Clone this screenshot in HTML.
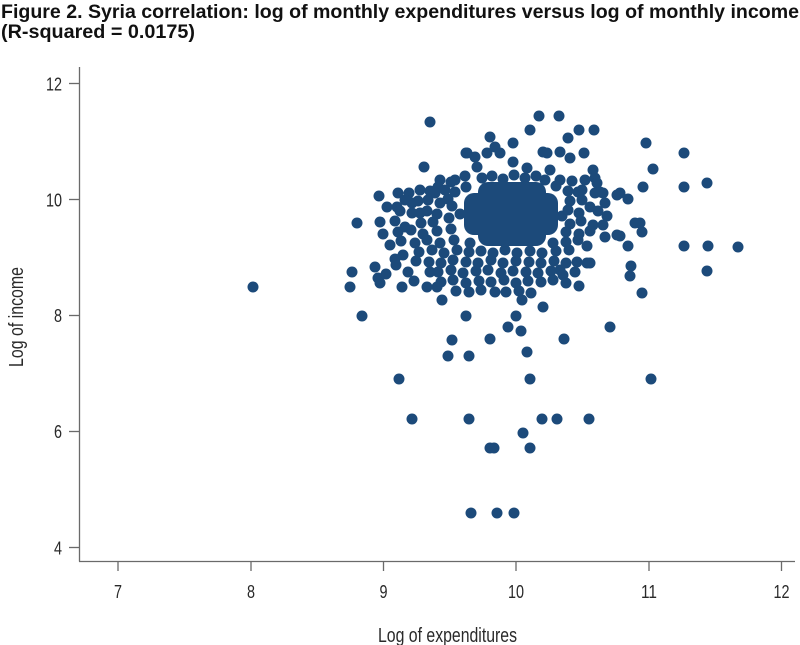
<!DOCTYPE html>
<html>
<head>
<meta charset="utf-8">
<style>
  html,body{margin:0;padding:0;background:#ffffff;}
  svg{display:block;}
  .t{font-family:"Liberation Sans",sans-serif;font-weight:bold;fill:#111;}
  .n{font-family:"Liberation Sans Narrow","Liberation Sans",sans-serif;fill:#2a2a2a;}
</style>
</head>
<body>
<svg width="800" height="645" viewBox="0 0 800 645" xmlns="http://www.w3.org/2000/svg">
  <rect x="0" y="0" width="800" height="645" fill="#ffffff"/>
  <text class="t" x="1" y="18" font-size="19.5" textLength="798" lengthAdjust="spacingAndGlyphs">Figure 2. Syria correlation: log of monthly expenditures versus log of monthly income</text>
  <text class="t" x="1" y="38" font-size="19.5" textLength="194" lengthAdjust="spacingAndGlyphs">(R-squared = 0.0175)</text>

  <g stroke="#6a6a6a" stroke-width="1.3" fill="none">
    <line x1="79.5" y1="67" x2="79.5" y2="561.5"/>
    <line x1="79" y1="561.5" x2="795" y2="561.5"/>
    <line x1="69" y1="83.5" x2="79" y2="83.5"/>
    <line x1="69" y1="199.5" x2="79" y2="199.5"/>
    <line x1="69" y1="315.5" x2="79" y2="315.5"/>
    <line x1="69" y1="431.5" x2="79" y2="431.5"/>
    <line x1="69" y1="547.5" x2="79" y2="547.5"/>
    <line x1="118" y1="561.5" x2="118" y2="571"/>
    <line x1="251" y1="561.5" x2="251" y2="571"/>
    <line x1="383.5" y1="561.5" x2="383.5" y2="571"/>
    <line x1="516" y1="561.5" x2="516" y2="571"/>
    <line x1="649" y1="561.5" x2="649" y2="571"/>
    <line x1="781.5" y1="561.5" x2="781.5" y2="571"/>
  </g>

  <g class="n" font-size="18.5" text-anchor="end">
    <text x="62" y="90.5" textLength="16" lengthAdjust="spacingAndGlyphs">12</text>
    <text x="62" y="206.5" textLength="16" lengthAdjust="spacingAndGlyphs">10</text>
    <text x="62" y="322" textLength="8" lengthAdjust="spacingAndGlyphs">8</text>
    <text x="62" y="438" textLength="8" lengthAdjust="spacingAndGlyphs">6</text>
    <text x="62" y="554.5" textLength="8" lengthAdjust="spacingAndGlyphs">4</text>
  </g>
  <g class="n" font-size="18.5">
    <text x="114" y="598" textLength="8" lengthAdjust="spacingAndGlyphs">7</text>
    <text x="247" y="598" textLength="8" lengthAdjust="spacingAndGlyphs">8</text>
    <text x="379.5" y="598" textLength="8" lengthAdjust="spacingAndGlyphs">9</text>
    <text x="508" y="598" textLength="16" lengthAdjust="spacingAndGlyphs">10</text>
    <text x="641" y="598" textLength="16" lengthAdjust="spacingAndGlyphs">11</text>
    <text x="773.5" y="598" textLength="16" lengthAdjust="spacingAndGlyphs">12</text>
  </g>
  <text class="n" x="378" y="642" font-size="20.5" textLength="139" lengthAdjust="spacingAndGlyphs">Log of expenditures</text>
  <text class="n" font-size="20.5" transform="translate(23,367) rotate(-90)" textLength="100" lengthAdjust="spacingAndGlyphs">Log of income</text>

  <g fill="#1c4a7a">
    <rect x="478" y="182" width="68" height="64" rx="10"/>
    <rect x="464" y="193" width="94" height="42" rx="10"/>
    <circle cx="482" cy="178" r="5.5"/><circle cx="492" cy="176" r="5.5"/><circle cx="503" cy="179" r="5.5"/><circle cx="514" cy="175" r="5.5"/><circle cx="525" cy="178" r="5.5"/><circle cx="536" cy="176" r="5.5"/><circle cx="545" cy="180" r="5.5"/>
    <circle cx="466" cy="187" r="5.5"/><circle cx="470" cy="243" r="5.5"/><circle cx="556" cy="186" r="5.5"/><circle cx="553" cy="243" r="5.5"/>
    <circle cx="460" cy="214" r="5.5"/><circle cx="562" cy="216" r="5.5"/>

    <circle cx="253" cy="287" r="5.5"/>
    <circle cx="352" cy="272" r="5.5"/>
    <circle cx="350" cy="287" r="5.5"/>
    <circle cx="362" cy="316" r="5.5"/>
    <circle cx="357" cy="223" r="5.5"/>
    <circle cx="379" cy="196" r="5.5"/>
    <circle cx="398" cy="193" r="5.5"/>
    <circle cx="409" cy="193" r="5.5"/>
    <circle cx="412" cy="203" r="5.5"/>
    <circle cx="387" cy="207" r="5.5"/>
    <circle cx="397" cy="207" r="5.5"/>
    <circle cx="380" cy="222" r="5.5"/>
    <circle cx="383" cy="234" r="5.5"/>
    <circle cx="405" cy="227" r="5.5"/>
    <circle cx="430" cy="122" r="5.5"/>
    <circle cx="424" cy="167" r="5.5"/>
    <circle cx="451" cy="182" r="5.5"/>
    <circle cx="438" cy="187" r="5.5"/>
    <circle cx="435" cy="193" r="5.5"/>
    <circle cx="448" cy="199" r="5.5"/>
    <circle cx="466" cy="153" r="5.5"/>
    <circle cx="375" cy="267" r="5.5"/>
    <circle cx="378" cy="278" r="5.5"/>
    <circle cx="380" cy="283" r="5.5"/>
    <circle cx="395" cy="259" r="5.5"/>
    <circle cx="403" cy="255" r="5.5"/>
    <circle cx="402" cy="287" r="5.5"/>
    <circle cx="427" cy="287" r="5.5"/>
    <circle cx="437" cy="287" r="5.5"/>
    <circle cx="442" cy="300" r="5.5"/>
    <circle cx="466" cy="316" r="5.5"/>
    <circle cx="452" cy="340" r="5.5"/>
    <circle cx="448" cy="356" r="5.5"/>
    <circle cx="469" cy="356" r="5.5"/>
    <circle cx="399" cy="379" r="5.5"/>
    <circle cx="412" cy="419" r="5.5"/>
    <circle cx="469" cy="419" r="5.5"/>
    <circle cx="471" cy="513" r="5.5"/>
    <circle cx="497" cy="513" r="5.5"/>
    <circle cx="514" cy="513" r="5.5"/>
    <circle cx="490" cy="448" r="5.5"/>
    <circle cx="494" cy="448" r="5.5"/>
    <circle cx="530" cy="448" r="5.5"/>
    <circle cx="523" cy="433" r="5.5"/>
    <circle cx="542" cy="419" r="5.5"/>
    <circle cx="557" cy="419" r="5.5"/>
    <circle cx="589" cy="419" r="5.5"/>
    <circle cx="530" cy="379" r="5.5"/>
    <circle cx="651" cy="379" r="5.5"/>
    <circle cx="527" cy="352" r="5.5"/>
    <circle cx="490" cy="339" r="5.5"/>
    <circle cx="564" cy="339" r="5.5"/>
    <circle cx="508" cy="327" r="5.5"/>
    <circle cx="521" cy="331" r="5.5"/>
    <circle cx="610" cy="327" r="5.5"/>
    <circle cx="516" cy="316" r="5.5"/>
    <circle cx="522" cy="300" r="5.5"/>
    <circle cx="543" cy="307" r="5.5"/>
    <circle cx="495" cy="292" r="5.5"/>
    <circle cx="579" cy="286" r="5.5"/>
    <circle cx="642" cy="293" r="5.5"/>
    <circle cx="630" cy="276" r="5.5"/>
    <circle cx="707" cy="271" r="5.5"/>
    <circle cx="631" cy="266" r="5.5"/>
    <circle cx="577" cy="262" r="5.5"/>
    <circle cx="587" cy="263" r="5.5"/>
    <circle cx="560" cy="270" r="5.5"/>
    <circle cx="563" cy="275" r="5.5"/>
    <circle cx="587" cy="246" r="5.5"/>
    <circle cx="628" cy="246" r="5.5"/>
    <circle cx="684" cy="246" r="5.5"/>
    <circle cx="708" cy="246" r="5.5"/>
    <circle cx="738" cy="247" r="5.5"/>
    <circle cx="620" cy="236" r="5.5"/>
    <circle cx="605" cy="237" r="5.5"/>
    <circle cx="593" cy="225" r="5.5"/>
    <circle cx="607" cy="216" r="5.5"/>
    <circle cx="590" cy="207" r="5.5"/>
    <circle cx="635" cy="223" r="5.5"/>
    <circle cx="640" cy="223" r="5.5"/>
    <circle cx="642" cy="232" r="5.5"/>
    <circle cx="595" cy="193" r="5.5"/>
    <circle cx="603" cy="193" r="5.5"/>
    <circle cx="620" cy="193" r="5.5"/>
    <circle cx="628" cy="199" r="5.5"/>
    <circle cx="593" cy="170" r="5.5"/>
    <circle cx="595" cy="178" r="5.5"/>
    <circle cx="597" cy="183" r="5.5"/>
    <circle cx="643" cy="187" r="5.5"/>
    <circle cx="653" cy="169" r="5.5"/>
    <circle cx="646" cy="143" r="5.5"/>
    <circle cx="684" cy="153" r="5.5"/>
    <circle cx="684" cy="187" r="5.5"/>
    <circle cx="707" cy="183" r="5.5"/>
    <circle cx="539" cy="116" r="5.5"/>
    <circle cx="559" cy="116" r="5.5"/>
    <circle cx="530" cy="130" r="5.5"/>
    <circle cx="579" cy="130" r="5.5"/>
    <circle cx="594" cy="130" r="5.5"/>
    <circle cx="490" cy="137" r="5.5"/>
    <circle cx="568" cy="138" r="5.5"/>
    <circle cx="513" cy="143" r="5.5"/>
    <circle cx="467" cy="153" r="5.5"/>
    <circle cx="487" cy="153" r="5.5"/>
    <circle cx="500" cy="153" r="5.5"/>
    <circle cx="495" cy="147" r="5.5"/>
    <circle cx="543" cy="152" r="5.5"/>
    <circle cx="560" cy="152" r="5.5"/>
    <circle cx="570" cy="158" r="5.5"/>
    <circle cx="584" cy="153" r="5.5"/>
    <circle cx="475" cy="157" r="5.5"/>
    <circle cx="477" cy="167" r="5.5"/>
    <circle cx="513" cy="162" r="5.5"/>
    <circle cx="527" cy="168" r="5.5"/>
    <circle cx="550" cy="170" r="5.5"/>
    <circle cx="547" cy="153" r="5.5"/>
    <circle cx="617" cy="195" r="5.5"/>
    <circle cx="617" cy="235" r="5.5"/>
    <circle cx="600" cy="192" r="5.5"/>
    <circle cx="578" cy="192" r="5.5"/>
    <circle cx="590" cy="263" r="5.5"/>
    <circle cx="390" cy="245" r="5.5"/>
    <circle cx="396" cy="265" r="5.5"/>
    <circle cx="408" cy="272" r="5.5"/>
    <circle cx="414" cy="281" r="5.5"/>
    <circle cx="386" cy="274" r="5.5"/>
    <circle cx="420" cy="213" r="5.5"/>
    <circle cx="430" cy="272" r="5.5"/>

    <circle cx="440" cy="180" r="5.5"/><circle cx="455" cy="180" r="5.5"/><circle cx="465" cy="176" r="5.5"/><circle cx="560" cy="180" r="5.5"/><circle cx="572" cy="181" r="5.5"/><circle cx="585" cy="180" r="5.5"/>
    <circle cx="420" cy="190" r="5.5"/><circle cx="430" cy="191" r="5.5"/><circle cx="445" cy="190" r="5.5"/><circle cx="455" cy="192" r="5.5"/><circle cx="568" cy="191" r="5.5"/><circle cx="582" cy="190" r="5.5"/>
    <circle cx="405" cy="200" r="5.5"/><circle cx="418" cy="201" r="5.5"/><circle cx="428" cy="200" r="5.5"/><circle cx="440" cy="203" r="5.5"/><circle cx="452" cy="206" r="5.5"/><circle cx="570" cy="201" r="5.5"/><circle cx="582" cy="200" r="5.5"/><circle cx="605" cy="203" r="5.5"/>
    <circle cx="400" cy="211" r="5.5"/><circle cx="412" cy="213" r="5.5"/><circle cx="427" cy="211" r="5.5"/><circle cx="437" cy="214" r="5.5"/><circle cx="449" cy="218" r="5.5"/><circle cx="568" cy="210" r="5.5"/><circle cx="579" cy="213" r="5.5"/><circle cx="598" cy="211" r="5.5"/>
    <circle cx="395" cy="221" r="5.5"/><circle cx="421" cy="223" r="5.5"/><circle cx="433" cy="222" r="5.5"/><circle cx="570" cy="224" r="5.5"/><circle cx="581" cy="221" r="5.5"/><circle cx="603" cy="225" r="5.5"/>
    <circle cx="398" cy="232" r="5.5"/><circle cx="411" cy="230" r="5.5"/><circle cx="423" cy="234" r="5.5"/><circle cx="437" cy="231" r="5.5"/><circle cx="451" cy="229" r="5.5"/><circle cx="566" cy="232" r="5.5"/><circle cx="579" cy="234" r="5.5"/><circle cx="590" cy="231" r="5.5"/>
    <circle cx="401" cy="241" r="5.5"/><circle cx="415" cy="243" r="5.5"/><circle cx="427" cy="240" r="5.5"/><circle cx="440" cy="243" r="5.5"/><circle cx="454" cy="240" r="5.5"/><circle cx="566" cy="242" r="5.5"/><circle cx="578" cy="240" r="5.5"/>
    <circle cx="419" cy="252" r="5.5"/><circle cx="432" cy="250" r="5.5"/><circle cx="444" cy="253" r="5.5"/><circle cx="457" cy="250" r="5.5"/><circle cx="469" cy="252" r="5.5"/><circle cx="481" cy="251" r="5.5"/><circle cx="493" cy="253" r="5.5"/><circle cx="505" cy="250" r="5.5"/><circle cx="517" cy="253" r="5.5"/><circle cx="530" cy="251" r="5.5"/><circle cx="542" cy="253" r="5.5"/><circle cx="556" cy="251" r="5.5"/><circle cx="569" cy="250" r="5.5"/>
    <circle cx="416" cy="261" r="5.5"/><circle cx="429" cy="262" r="5.5"/><circle cx="441" cy="263" r="5.5"/><circle cx="453" cy="260" r="5.5"/><circle cx="466" cy="262" r="5.5"/><circle cx="478" cy="263" r="5.5"/><circle cx="491" cy="260" r="5.5"/><circle cx="503" cy="263" r="5.5"/><circle cx="516" cy="261" r="5.5"/><circle cx="529" cy="262" r="5.5"/><circle cx="541" cy="263" r="5.5"/><circle cx="554" cy="261" r="5.5"/><circle cx="566" cy="263" r="5.5"/>
    <circle cx="438" cy="272" r="5.5"/><circle cx="451" cy="270" r="5.5"/><circle cx="463" cy="273" r="5.5"/><circle cx="476" cy="271" r="5.5"/><circle cx="488" cy="270" r="5.5"/><circle cx="501" cy="273" r="5.5"/><circle cx="513" cy="271" r="5.5"/><circle cx="526" cy="272" r="5.5"/><circle cx="538" cy="273" r="5.5"/><circle cx="551" cy="271" r="5.5"/><circle cx="575" cy="272" r="5.5"/>
    <circle cx="441" cy="282" r="5.5"/><circle cx="453" cy="280" r="5.5"/><circle cx="466" cy="283" r="5.5"/><circle cx="479" cy="281" r="5.5"/><circle cx="491" cy="282" r="5.5"/><circle cx="504" cy="280" r="5.5"/><circle cx="516" cy="283" r="5.5"/><circle cx="528" cy="281" r="5.5"/><circle cx="541" cy="282" r="5.5"/><circle cx="553" cy="280" r="5.5"/><circle cx="566" cy="283" r="5.5"/>
    <circle cx="456" cy="291" r="5.5"/><circle cx="469" cy="292" r="5.5"/><circle cx="481" cy="290" r="5.5"/><circle cx="506" cy="292" r="5.5"/><circle cx="519" cy="291" r="5.5"/><circle cx="531" cy="293" r="5.5"/>
  </g>
</svg>
</body>
</html>
